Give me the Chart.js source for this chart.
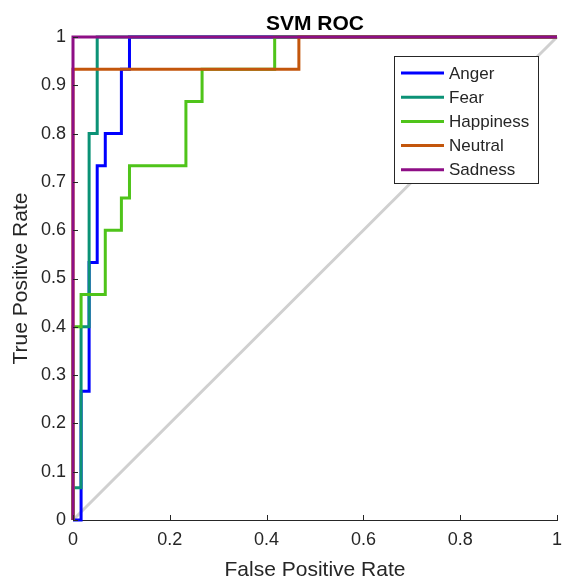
<!DOCTYPE html>
<html>
<head>
<meta charset="utf-8">
<title>SVM ROC</title>
<script src="https://cdn.jsdelivr.net/npm/chart.js@4.4.1/dist/chart.umd.min.js"></script>
<style>
    html, body { margin: 0; padding: 0; background: #fff; }
    #wrap { width: 562px; height: 581px; }
</style>
</head>
<body>
<div id="wrap"><canvas id="rocChart" width="562" height="581"></canvas></div>
<script>
// ---------------------------
// Data
// ---------------------------
const classNames = ['Anger', 'Fear', 'Happiness', 'Neutral', 'Sadness'];
const classColors = ['#0000ff', '#0b9276', '#4fc41a', '#c3560c', '#8e0e86'];

const angerFpr = [0, 0.0167, 0.0167, 0.0333, 0.0333, 0.05, 0.05, 0.0667, 0.0667, 0.1, 0.1, 0.1167, 0.1167, 1];
const angerTpr = [0, 0, 0.2667, 0.2667, 0.5333, 0.5333, 0.7333, 0.7333, 0.8, 0.8, 0.9333, 0.9333, 1, 1];

const fearFpr = [0, 0, 0.0167, 0.0167, 0.0333, 0.0333, 0.05, 0.05, 1];
const fearTpr = [0, 0.0667, 0.0667, 0.4, 0.4, 0.8, 0.8, 1, 1];

const happinessFpr = [0, 0, 0.0167, 0.0167, 0.0667, 0.0667, 0.1, 0.1, 0.1167, 0.1167, 0.2333, 0.2333, 0.2667, 0.2667, 0.4167, 0.4167, 1];
const happinessTpr = [0, 0.4, 0.4, 0.4667, 0.4667, 0.6, 0.6, 0.6667, 0.6667, 0.7333, 0.7333, 0.8667, 0.8667, 0.9333, 0.9333, 1, 1];

const neutralFpr = [0, 0, 0.4667, 0.4667, 1];
const neutralTpr = [0, 0.9333, 0.9333, 1, 1];

const sadnessFpr = [0, 0, 1];
const sadnessTpr = [0, 1, 1];

const chanceFpr = [0, 1];
const chanceTpr = [0, 1];

const xTicks = [0, 0.2, 0.4, 0.6, 0.8, 1];
const yTicks = [0, 0.1, 0.2, 0.3, 0.4, 0.5, 0.6, 0.7, 0.8, 0.9, 1];

// ---------------------------
// Helpers
// ---------------------------
const FONT = '"Liberation Sans", Arial, Helvetica, sans-serif';
const AXIS_COLOR = '#262626';

function toPoints(xs, ys) {
    return xs.map((x, i) => ({ x: x, y: ys[i] }));
}

const seriesX = [angerFpr, fearFpr, happinessFpr, neutralFpr, sadnessFpr];
const seriesY = [angerTpr, fearTpr, happinessTpr, neutralTpr, sadnessTpr];

const datasets = classNames.map((name, i) => ({
    label: name,
    data: toPoints(seriesX[i], seriesY[i]),
    borderColor: classColors[i],
    backgroundColor: classColors[i],
    borderWidth: 3,
    pointRadius: 0,
    showLine: true,
    fill: false,
    tension: 0,
    clip: false,
    order: 5 - i   // later classes on top, like MATLAB
}));

datasets.push({
    label: 'chance',
    data: toPoints(chanceFpr, chanceTpr),
    borderColor: '#d0d0d0',
    borderWidth: 3,
    pointRadius: 0,
    showLine: true,
    fill: false,
    clip: false,
    order: 10
});

// inward tick marks + title + boxed legend
const matlabAxes = {
    id: 'matlabAxes',
    afterDatasetsDraw(chart) {
        const { ctx, chartArea, scales } = chart;
        ctx.save();

        // tick marks pointing into the plot
        ctx.strokeStyle = AXIS_COLOR;
        ctx.lineWidth = 1;
        ctx.beginPath();
        xTicks.forEach(v => {
            const px = Math.round(scales.x.getPixelForValue(v)) + 0.5;
            ctx.moveTo(px, chartArea.bottom);
            ctx.lineTo(px, chartArea.bottom - 5);
        });
        yTicks.forEach(v => {
            const py = Math.round(scales.y.getPixelForValue(v)) + 0.5;
            ctx.moveTo(chartArea.left, py);
            ctx.lineTo(chartArea.left + 5, py);
        });
        ctx.stroke();

        // title
        ctx.fillStyle = '#000';
        ctx.font = 'bold 21px ' + FONT;
        ctx.textAlign = 'center';
        ctx.textBaseline = 'middle';
        ctx.fillText('SVM ROC', (chartArea.left + chartArea.right) / 2, 24);

        // legend box
        const lx = 394.5, ly = 56.5, lw = 144, lh = 127;
        ctx.fillStyle = '#fff';
        ctx.fillRect(lx, ly, lw, lh);
        ctx.strokeStyle = AXIS_COLOR;
        ctx.strokeRect(lx, ly, lw, lh);

        ctx.font = '17px ' + FONT;
        ctx.textAlign = 'left';
        classNames.forEach((name, i) => {
            const y = 73 + i * 24.2;
            ctx.strokeStyle = classColors[i];
            ctx.lineWidth = 3;
            ctx.beginPath();
            ctx.moveTo(401, y);
            ctx.lineTo(444, y);
            ctx.stroke();
            ctx.fillStyle = AXIS_COLOR;
            ctx.fillText(name, 449, y + 1);
        });
        ctx.restore();
    }
};

new Chart(document.getElementById('rocChart'), {
    type: 'scatter',
    data: { datasets: datasets },
    options: {
        responsive: false,
        devicePixelRatio: 1,
        animation: false,
        layout: { padding: { top: 37, right: 5, bottom: 0, left: 0 } },
        plugins: {
            legend: { display: false },
            tooltip: { enabled: false },
            title: { display: false }
        },
        scales: {
            x: {
                type: 'linear',
                min: 0,
                max: 1,
                afterBuildTicks: s => { s.ticks = xTicks.map(v => ({ value: v })); },
                afterFit: s => { s.height = 61; s.paddingLeft = 0; s.paddingRight = 0; },
                grid: { display: false, drawTicks: false },
                border: { display: true, color: AXIS_COLOR, width: 1 },
                ticks: {
                    color: AXIS_COLOR,
                    font: { family: FONT, size: 18 },
                    padding: 9,
                    maxRotation: 0,
                    autoSkip: false,
                    callback: v => String(v)
                },
                title: {
                    display: true,
                    text: 'False Positive Rate',
                    color: AXIS_COLOR,
                    font: { family: FONT, size: 21 },
                    padding: { top: 0, bottom: -2 }
                }
            },
            y: {
                type: 'linear',
                min: 0,
                max: 1,
                afterBuildTicks: s => { s.ticks = yTicks.map(v => ({ value: v })); },
                afterFit: s => { s.width = 73; s.paddingTop = 0; s.paddingBottom = 0; },
                grid: { display: false, drawTicks: false },
                border: { display: true, color: AXIS_COLOR, width: 1 },
                ticks: {
                    color: AXIS_COLOR,
                    font: { family: FONT, size: 18 },
                    padding: 7,
                    autoSkip: false,
                    callback: v => String(v)
                },
                title: {
                    display: true,
                    text: 'True Positive Rate',
                    color: AXIS_COLOR,
                    font: { family: FONT, size: 21 },
                    padding: { top: 9, bottom: 0 }
                }
            }
        }
    },
    plugins: [matlabAxes]
});
</script>
</body>
</html>
